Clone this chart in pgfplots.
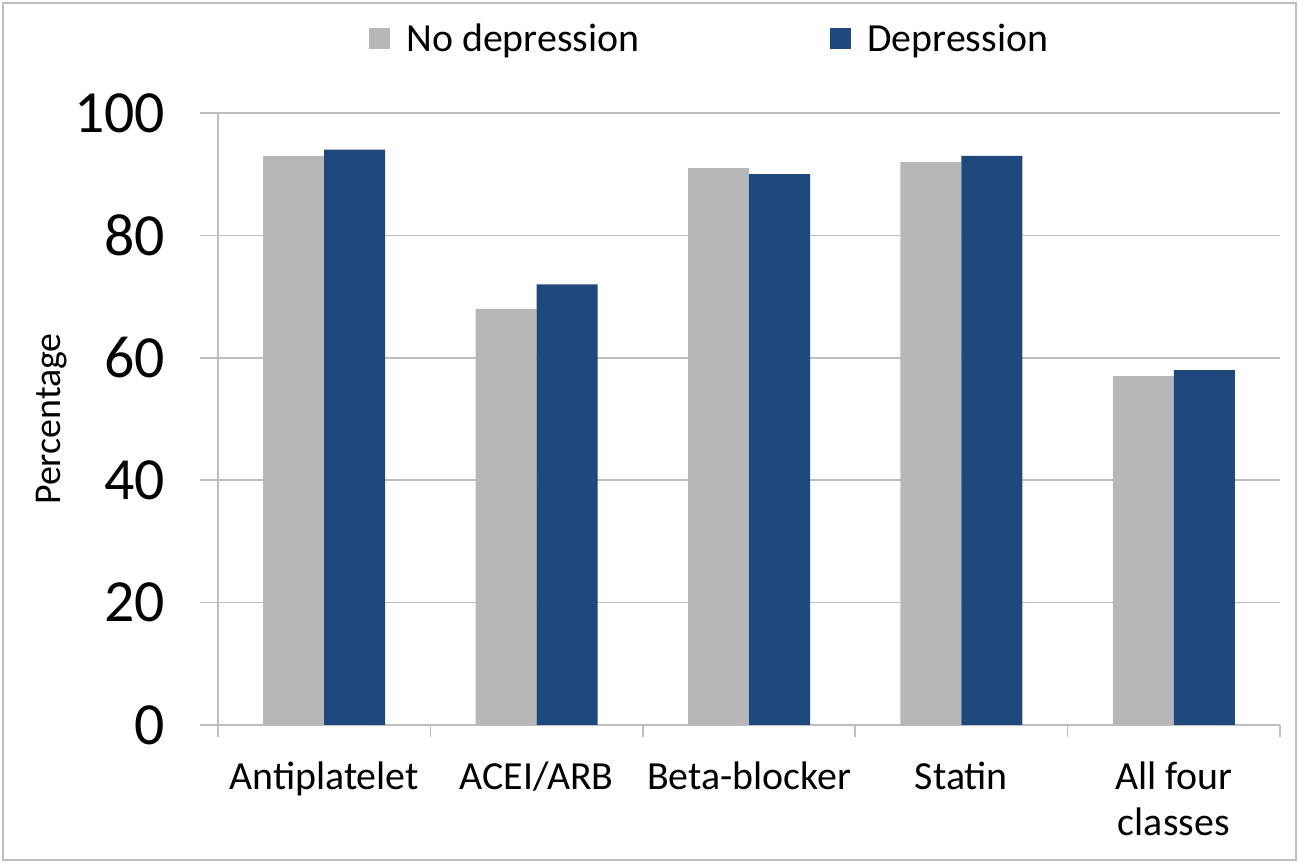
\documentclass[border=0pt]{standalone}
\usepackage{fontspec}
\setmainfont{Carlito}
\usepackage{pgfplots}
\pgfplotsset{compat=1.18}
\definecolor{barGray}{HTML}{B7B7B7}
\definecolor{barBlue}{HTML}{1F497D}
\definecolor{lineGray}{HTML}{BEBEBE}
\begin{document}
\begin{tikzpicture}
\useasboundingbox (0,0) rectangle (649.5bp,431.5bp);
\draw[lineGray, line width=1bp] (1.5bp,1.5bp) rectangle (648bp,430bp);
\begin{axis}[
  at={(109bp,69bp)}, anchor=south west,
  scale only axis, width=531bp, height=306bp,
  ybar=0pt, bar width=30.5bp,
  xmin=-0.5, xmax=4.5, ymin=0, ymax=100,
  axis x line*=bottom, axis y line*=left,
  axis line style={lineGray, line width=0.75bp, -},
  ytick={0,20,...,100},
  ymajorgrids, grid style={lineGray, line width=0.75bp},
  tick align=outside, major tick length=9bp,
  tick style={lineGray, line width=0.75bp},
  xtick={0,1,2,3,4},
  xticklabels={Antiplatelet, ACEI/ARB, Beta-blocker, Statin, {All four\\classes}},
  xtick style={draw=none},
  extra x ticks={-0.5,0.5,1.5,2.5,3.5,4.5},
  extra x tick labels={},
  extra x tick style={xtick style={draw=lineGray}, major tick length=6bp, grid=none},
  /pgf/number format/assume math mode=true,
  yticklabel style={font=\fontsize{30}{36}\selectfont, xshift=-14bp},
  xticklabel style={font=\fontsize{20}{23}\selectfont, align=center, anchor=north, yshift=-6bp},
  ylabel={Percentage},
  ylabel style={font=\fontsize{19}{22}\selectfont, at={(axis description cs:-0.157,0.5)}, anchor=center},
  legend style={draw=none, fill=none, legend columns=2, at={(0.464,1.121)}, anchor=center,
    font=\fontsize{20}{23}\selectfont,
    /tikz/every odd column/.append style={column sep=6bp},
    /tikz/every even column/.append style={column sep=93.5bp}},
  legend image code/.code={\fill[#1] (0bp,-5.25bp) rectangle (10.5bp,5.25bp);},
]
\addplot[fill=barGray, draw=none] coordinates {(0,93) (1,68) (2,91) (3,92) (4,57)};
\addlegendentry{No depression}
\addplot[fill=barBlue, draw=none] coordinates {(0,94) (1,72) (2,90) (3,93) (4,58)};
\addlegendentry{Depression}
\end{axis}
\end{tikzpicture}
\end{document}
